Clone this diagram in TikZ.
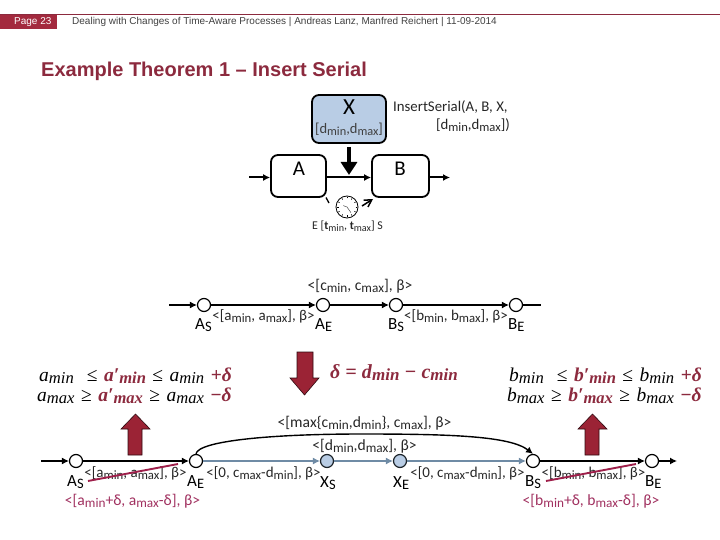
\documentclass[tikz,border=0pt]{standalone}
\usepackage{fontspec}
\setmainfont{Carlito}
\newfontfamily\hdr{Liberation Sans}
\newfontfamily\eqf{Liberation Serif}
\usetikzlibrary{arrows.meta,calc}
\definecolor{barred}{HTML}{A32A3E}
\definecolor{titlered}{HTML}{8C2A3E}
\definecolor{lab}{HTML}{A0305F}
\definecolor{strike}{HTML}{9E1F4A}
\definecolor{arrowred}{HTML}{9B2335}
\definecolor{boxblue}{HTML}{B9CDE5}
\definecolor{flow}{HTML}{6F8BA5}
\newcommand\lo[1]{\raisebox{-.32ex}{\scalebox{.85}{#1}}}
\newcommand\mi[1]{\textit{#1}}
\newcommand\rd[1]{\textcolor{titlered}{\textbf{\textit{#1}}}}
\newcommand\mn{\lo{\mi{min}}}
\newcommand\mx{\lo{\mi{max}}}
\newcommand\rmn{\lo{\rd{min}}}
\newcommand\rmx{\lo{\rd{max}}}
\newcommand\gp{\hspace{6.5pt}}
\tikzset{
  x=1pt,y=-1pt,
  tip/.style={-{Latex[length=7pt,width=7pt]}},
  plain/.style={draw=black,line width=1.2pt},
  task/.style={draw=black,line width=1.8pt,rounded corners=7pt,minimum height=42pt,inner sep=0pt},
  ev/.style={circle,draw=black,fill=white,line width=1.2pt,minimum size=13pt,inner sep=0pt},
  evb/.style={ev,fill=boxblue,draw=black!75!flow},
  lbl/.style={font=\fontsize{15.6}{17}\selectfont,inner sep=0pt,text=black!85},
  edgelbl/.style={font=\fontsize{15}{17}\selectfont,inner sep=0pt,text=black!85},
  rlbl/.style={lbl,text=lab},
  evl/.style={font=\fontsize{17}{18}\selectfont,inner sep=0pt,anchor=base west},
  eql/.style={font=\eqf\fontsize{19.5}{21}\selectfont,inner sep=0pt,anchor=base west},
  bigarrow/.style={draw=black!70!arrowred,line width=.6pt,fill=arrowred},
}
\begin{document}
\begin{tikzpicture}
\useasboundingbox (0,0) rectangle (720,540);
% header
\fill[barred] (0,14) rectangle (57,29);
\draw[titlered,line width=.8pt] (0,14.5) -- (720,14.5);
\node[anchor=base west,inner sep=0pt,text=white,font=\hdr\fontsize{10}{11}\selectfont] (page) at (14,25) {Page 23};
\node[anchor=base west,inner sep=0pt,text=black!75,font=\hdr\fontsize{10}{11}\selectfont] (head) at (72,25) {Dealing with Changes of Time-Aware Processes | Andreas Lanz, Manfred Reichert | 11-09-2014};
\node[anchor=base west,inner sep=0pt,text=titlered,font=\hdr\bfseries\fontsize{20}{22}\selectfont] (title) at (41,77) {Example Theorem 1 – Insert Serial};

% top change pattern
\node[task,fill=boxblue,minimum width=74pt,minimum height=48pt] (X) at (349,119) {};
\node[inner sep=0pt,font=\fontsize{23}{24}\selectfont] (Xt) at (349,107) {X};
\node[inner sep=0pt,text=black!75,font=\fontsize{14.5}{16}\selectfont] (Xr) at (349,129) {[d\lo{min},d\lo{max}]};
\node[anchor=west,inner sep=0pt,font=\fontsize{14.8}{16}\selectfont,text=black!85] (ins1) at (393,107) {InsertSerial(A, B, X,};
\node[anchor=east,inner sep=0pt,font=\fontsize{14.8}{16}\selectfont,text=black!85] (ins2) at (510,125) {[d\lo{min},d\lo{max}])};
\node[task,minimum width=55pt] (A) at (298.5,176) {};
\node[task,minimum width=57pt] (B) at (400.5,176) {};
\node[inner sep=0pt,font=\fontsize{21}{22}\selectfont] (At) at (299,169) {A};
\node[inner sep=0pt,font=\fontsize{21}{22}\selectfont] (Bt) at (400,169) {B};
\coordinate (in) at (249,177.5);
\coordinate (out) at (450,177.5);
\draw[plain,line width=2pt,tip] (in) -- (A.west |- in);
\draw[plain,line width=2pt,tip] (A.east |- in) -- (B.west |- in);
\draw[plain,line width=2pt,tip] (B.east |- in) -- (out);
\coordinate (ds) at (349,147);
\coordinate (de) at (349,175);
\draw[black,line width=4pt,-{Triangle[length=13pt,width=16pt]}] (ds) -- (de);
% clock
\node[circle,draw=black,fill=white,line width=.8pt,minimum size=22pt,inner sep=0pt] (clock) at (347,207) {};
\foreach \a in {0,30,...,330} \draw[black,line width=.5pt] ($(clock)+(\a:8.5)$) -- ($(clock)+(\a:10)$);
\draw[black!70,line width=.5pt] (clock.center) -- ++(55:7);
\draw[black!70,line width=.5pt] (clock.center) -- ++(200:4);
\coordinate (c1) at (326,197.5);
\coordinate (c2) at (329,203);
\coordinate (c3) at (362,206);
\coordinate (c4) at (373,199);
\draw[black,line width=1.3pt] (c1) -- (c2);
\draw[black,line width=1.5pt,-{Straight Barb[length=7pt,width=8pt]}] (c3) -- (c4);
\node[inner sep=0pt,font=\fontsize{11.9}{13}\selectfont,text=black!85] (tlab) at (347.5,226) {E [\textbf{t}\lo{min}, \textbf{t}\lo{max}] S};

% middle process
\coordinate (m0) at (169,305);
\coordinate (m9) at (541,305);
\node[ev] (mAS) at (204,305) {};
\node[ev] (mAE) at (323,305) {};
\node[ev] (mBS) at (396,305) {};
\node[ev] (mBE) at (516,305) {};
\draw[plain,tip] (m0) -- (mAS);
\draw[plain,tip] (mAS) -- (mAE);
\draw[plain,tip] (mAE) -- (mBS);
\draw[plain,tip] (mBS) -- (mBE);
\draw[plain] (mBE) -- (m9);
\node[lbl] (mc) at (360,286) {<[c\lo{min}, c\lo{max}], β>};
\node[edgelbl] (ma) at (263.5,316.5) {<[a\lo{min}, a\lo{max}], β>};
\node[edgelbl] (mb) at (456,316.5) {<[b\lo{min}, b\lo{max}], β>};
\node[evl] (tAS) at (195,329) {A\lo{S}};
\node[evl] (tAE) at (315,329) {A\lo{E}};
\node[evl] (tBS) at (388,329) {B\lo{S}};
\node[evl] (tBE) at (508,329) {B\lo{E}};

% big arrows
\draw[bigarrow] (297,352) -- (313,352) -- (313,378) -- (319,378) -- (304.5,395) -- (290,378) -- (297,378) -- cycle;
\draw[bigarrow] (128,455) -- (142,455) -- (142,429) -- (150,429) -- (135.5,414) -- (121,429) -- (128,429) -- cycle;
\draw[bigarrow] (585,455) -- (599,455) -- (599,429) -- (607,429) -- (592.5,414) -- (578,429) -- (585,429) -- cycle;

% equations
\node[inner sep=0pt,anchor=base west,font=\eqf\fontsize{20}{22}\selectfont,text=titlered] (delta) at (330,378) {\textbf{\textit{δ = d}}\rmn\textbf{\textit{ − c}}\rmn};
\node[eql] (e1) at (39,381) {\mi{a}\mn\gp\gp≤\gp\rd{a′}\rmn\gp≤\gp\mi{a}\mn\gp\textcolor{titlered}{\textbf{+}\rd{δ}}};
\node[eql] (e2) at (37,401) {\mi{a}\mx\gp≥\gp\rd{a′}\rmx\gp≥\gp\mi{a}\mx\gp\textcolor{titlered}{\textbf{−}\rd{δ}}};
\node[eql] (e3) at (509,381) {\mi{b}\mn\gp\gp≤\gp\rd{b′}\rmn\gp≤\gp\mi{b}\mn\gp\textcolor{titlered}{\textbf{+}\rd{δ}}};
\node[eql] (e4) at (507,401) {\mi{b}\mx\gp≥\gp\rd{b′}\rmx\gp≥\gp\mi{b}\mx\gp\textcolor{titlered}{\textbf{−}\rd{δ}}};

% bottom process
\coordinate (b0) at (41,461);
\coordinate (b9) at (677,461);
\node[ev] (AS) at (76,461) {};
\node[ev] (AE) at (196,461) {};
\node[evb] (XS) at (327,461) {};
\node[evb] (XE) at (400,461) {};
\node[ev] (BS) at (533,461) {};
\node[ev] (BE) at (652,461) {};
\draw[plain,tip] (b0) -- (AS);
\draw[plain,tip] (AS) -- (AE);
\draw[flow,line width=1.2pt,tip] (AE) -- (XS);
\draw[flow,line width=1.2pt,tip] (XS) -- (XE);
\draw[flow,line width=1.2pt,tip] (XE) -- (BS);
\draw[plain,tip] (BS) -- (BE);
\draw[plain,tip] (BE) -- (b9);
\draw[plain,line width=1.4pt,tip] (AE.north) .. controls (198,441) and (270,434) .. (362,434) .. controls (450,434) and (510,436) .. (BS.north);
\node[edgelbl] (l1) at (135.5,473) {<[a\lo{min}, a\lo{max}], β>};
\node[edgelbl] (l2) at (263.5,473) {<[0, c\lo{max}-d\lo{min}], β>};
\node[edgelbl] (l3) at (467.5,473) {<[0, c\lo{max}-d\lo{min}], β>};
\node[edgelbl] (l4) at (593.5,473) {<[b\lo{min}, b\lo{max}], β>};
\node[lbl] (l5) at (364.5,423) {<[max\{c\lo{min},d\lo{min}\}, c\lo{max}], β>};
\node[lbl] (l6) at (364.5,446) {<[d\lo{min},d\lo{max}], β>};
\node[evl] (tAS2) at (67,486) {A\lo{S}};
\node[evl] (tAE2) at (187,486) {A\lo{E}};
\node[evl] (tXS) at (320,487) {X\lo{S}};
\node[evl] (tXE) at (393,487) {X\lo{E}};
\node[evl] (tBS2) at (525,486) {B\lo{S}};
\node[evl] (tBE2) at (645,486) {B\lo{E}};
\node[rlbl] (r1) at (132.5,501) {<[a\lo{min}+δ, a\lo{max}-δ], β>};
\node[rlbl] (r2) at (591,501) {<[b\lo{min}+δ, b\lo{max}-δ], β>};
\coordinate (s1) at (88,481);
\coordinate (s2) at (178,464);
\coordinate (s3) at (546,481);
\coordinate (s4) at (636,464);
\draw[strike,line width=1.9pt] (s1) -- (s2);
\draw[strike,line width=1.9pt] (s3) -- (s4);
\end{tikzpicture}
\end{document}
